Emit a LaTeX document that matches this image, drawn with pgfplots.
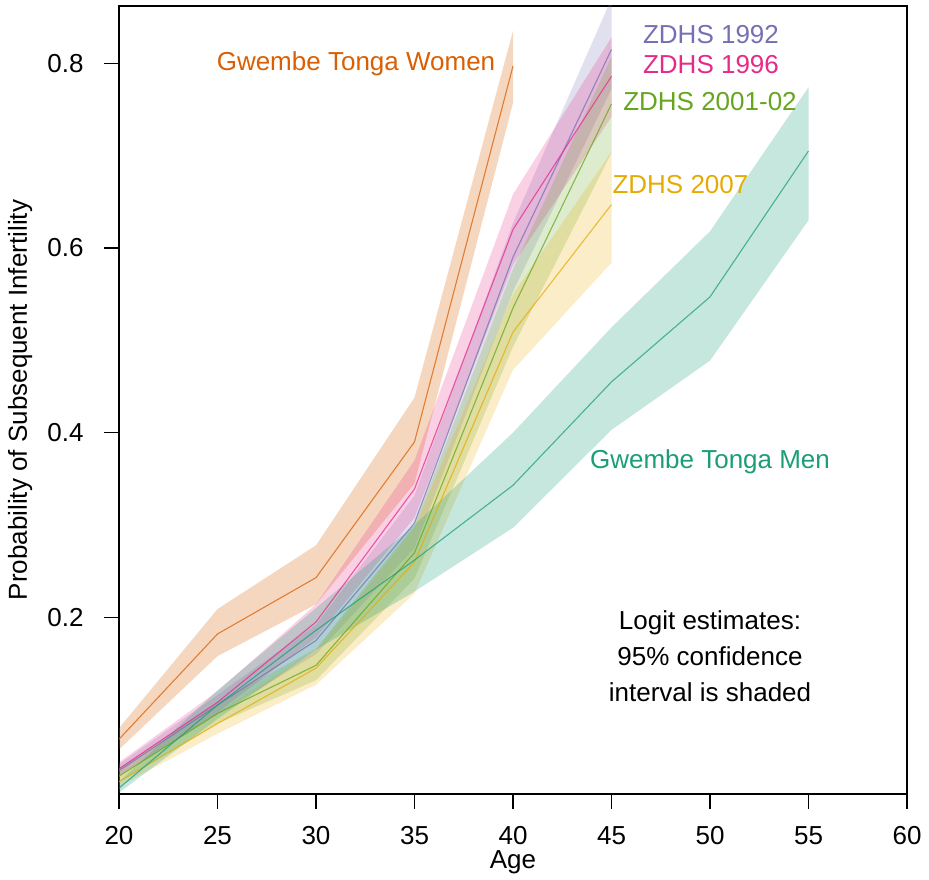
\documentclass[border=0pt]{standalone}
\usepackage{fontspec}
\setmainfont{Liberation Sans}
\usepackage{pgfplots}
\pgfplotsset{compat=1.18}
\usepackage{pgfplotstable}
\usepgfplotslibrary{fillbetween}

% Dark2 palette
\definecolor{dteal}{HTML}{1B9E77}
\definecolor{dorange}{HTML}{D95F02}
\definecolor{dpurple}{HTML}{7570B3}
\definecolor{dpink}{HTML}{E7298A}
\definecolor{dgreen}{HTML}{66A61E}
\definecolor{dyellow}{HTML}{E6AB02}

% age, estimate, lower and upper 95% bound
\pgfplotstableread{
age est lo hi
20 0.068 0.057 0.080
25 0.182 0.158 0.209
30 0.243 0.214 0.278
35 0.390 0.345 0.438
40 0.797 0.757 0.835
}\women
\pgfplotstableread{
age est lo hi
20 0.034 0.028 0.041
25 0.105 0.095 0.116
30 0.175 0.160 0.192
35 0.302 0.275 0.332
40 0.590 0.553 0.627
45 0.815 0.772 0.870
}\zdhsA
\pgfplotstableread{
age est lo hi
20 0.036 0.029 0.043
25 0.108 0.097 0.120
30 0.195 0.178 0.214
35 0.339 0.308 0.370
40 0.620 0.582 0.658
45 0.786 0.742 0.828
}\zdhsB
\pgfplotstableread{
age est lo hi
20 0.028 0.022 0.036
25 0.096 0.085 0.108
30 0.148 0.132 0.166
35 0.270 0.242 0.300
40 0.535 0.493 0.577
45 0.756 0.703 0.807
}\zdhsC
\pgfplotstableread{
age est lo hi
20 0.022 0.017 0.029
25 0.085 0.074 0.097
30 0.145 0.127 0.164
35 0.260 0.226 0.297
40 0.509 0.468 0.550
45 0.647 0.584 0.704
}\zdhsD
\pgfplotstableread{
age est lo hi
20 0.015 0.010 0.022
25 0.105 0.090 0.121
30 0.186 0.165 0.210
35 0.262 0.228 0.300
40 0.343 0.297 0.400
45 0.455 0.403 0.514
50 0.547 0.478 0.618
55 0.705 0.630 0.774
}\men

\begin{document}
\begin{tikzpicture}[font=\fontsize{26}{36}\selectfont]
  \begin{axis}[
      scale only axis,
      width=788pt, height=788pt,
      xmin=20, xmax=60, ymin=0.0087, ymax=0.862,
      xtick={20,25,...,60}, ytick={0.2,0.4,0.6,0.8},
      tick pos=left,
      tick align=outside,
      major tick length=15pt,
      tick style={line width=1.2pt, black},
      axis line style={line width=1.6pt},
      /pgf/number format/assume math mode=true,
      yticklabel style={/pgf/number format/fixed, /pgf/number format/precision=1,
        /pgf/number format/fixed zerofill, xshift=-17pt},
      xticklabel style={yshift=-14pt},
      xlabel={Age},
      ylabel={Probability of Subsequent Infertility},
      xlabel style={at={(axis description cs:0.5,-0.0863)}, anchor=center},
      ylabel style={at={(axis description cs:-0.1256,0.5)}, anchor=center},
      every axis plot/.append style={line width=1.1pt},
    ]
    \coordinate (bl) at (rel axis cs:0,0);
    \coordinate (tr) at (rel axis cs:1,1);

    % confidence bands
    \addplot[name path=wH, draw=none, forget plot] table[x=age, y=hi]{\women};
    \addplot[name path=wL, draw=none, forget plot] table[x=age, y=lo]{\women};
    \addplot[dorange, fill opacity=0.25, draw=none] fill between[of=wH and wL];

    \addplot[name path=aH, draw=none, forget plot] table[x=age, y=hi]{\zdhsA};
    \addplot[name path=aL, draw=none, forget plot] table[x=age, y=lo]{\zdhsA};
    \addplot[dpurple, fill opacity=0.22, draw=none] fill between[of=aH and aL];

    \addplot[name path=bH, draw=none, forget plot] table[x=age, y=hi]{\zdhsB};
    \addplot[name path=bL, draw=none, forget plot] table[x=age, y=lo]{\zdhsB};
    \addplot[dpink, fill opacity=0.22, draw=none] fill between[of=bH and bL];

    \addplot[name path=cH, draw=none, forget plot] table[x=age, y=hi]{\zdhsC};
    \addplot[name path=cL, draw=none, forget plot] table[x=age, y=lo]{\zdhsC};
    \addplot[dgreen, fill opacity=0.22, draw=none] fill between[of=cH and cL];

    \addplot[name path=dH, draw=none, forget plot] table[x=age, y=hi]{\zdhsD};
    \addplot[name path=dL, draw=none, forget plot] table[x=age, y=lo]{\zdhsD};
    \addplot[dyellow, fill opacity=0.22, draw=none] fill between[of=dH and dL];

    \addplot[name path=mH, draw=none, forget plot] table[x=age, y=hi]{\men};
    \addplot[name path=mL, draw=none, forget plot] table[x=age, y=lo]{\men};
    \addplot[dteal, fill opacity=0.25, draw=none] fill between[of=mH and mL];

    % estimates
    \addplot[dorange, opacity=0.75] table[x=age, y=est]{\women};
    \addplot[dpurple, opacity=0.75] table[x=age, y=est]{\zdhsA};
    \addplot[dpink, opacity=0.75] table[x=age, y=est]{\zdhsB};
    \addplot[dgreen, opacity=0.75] table[x=age, y=est]{\zdhsC};
    \addplot[dyellow, opacity=0.75] table[x=age, y=est]{\zdhsD};
    \addplot[dteal, opacity=0.75] table[x=age, y=est]{\men};

    % series labels
    \node[text=dorange] at (axis cs:32.03,0.799) {Gwembe Tonga Women};
    \node[text=dpurple] at (axis cs:50.05,0.831) {ZDHS 1992};
    \node[text=dpink] at (axis cs:50.05,0.799) {ZDHS 1996};
    \node[text=dgreen] at (axis cs:50.0,0.759) {ZDHS 2001-02};
    \node[text=dyellow] at (axis cs:48.5,0.669) {ZDHS 2007};
    \node[text=dteal] at (axis cs:50.0,0.368) {Gwembe Tonga Men};
    \node[align=center] at (axis cs:50.0,0.158)
      {Logit estimates:\\95\% confidence\\interval is shaded};
  \end{axis}
  \pgfresetboundingbox
  \path ([shift={(-119pt,-85pt)}]bl) rectangle ([shift={(22pt,6pt)}]tr);
\end{tikzpicture}
\end{document}
